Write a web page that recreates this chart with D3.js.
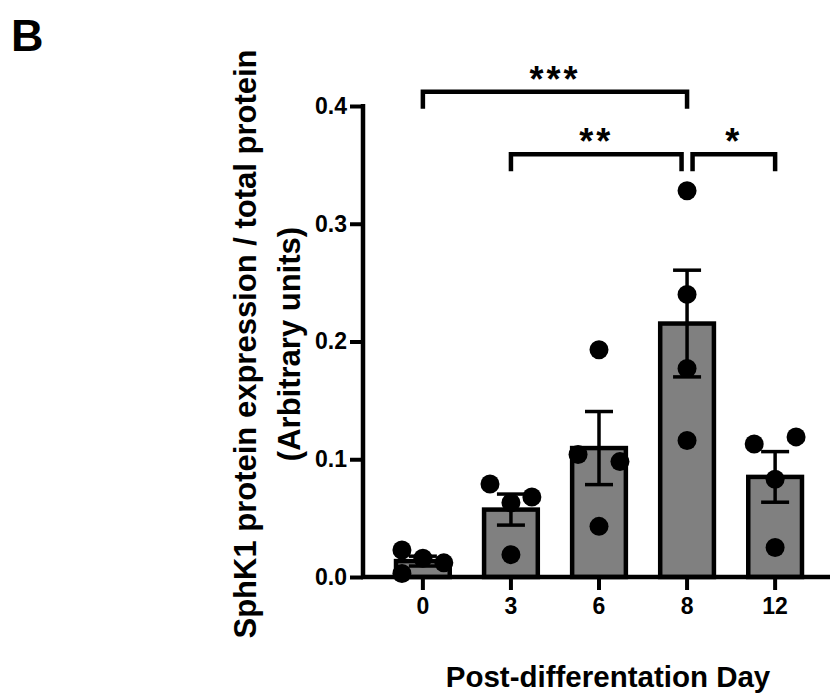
<!DOCTYPE html>
<html>
<head>
<meta charset="utf-8">
<script src="https://cdn.jsdelivr.net/npm/d3@7"></script>
<style>
  body { margin: 0; background: #fff; }
  svg text { font-family: Arial, "Liberation Sans", Helvetica, sans-serif; font-weight: bold; }
</style>
</head>
<body>
<svg id="chart" width="830" height="693"></svg>
<script>
// days after differentiation (x categories)
const days = ['0', '3', '6', '8', '12'];

// individual replicate values per day
const replicates = [
  [0.023, 0.016, 0.012, 0.003],
  [0.079, 0.063, 0.068, 0.019],
  [0.104, 0.098, 0.043, 0.193],
  [0.328, 0.240, 0.177, 0.116],
  [0.113, 0.119, 0.083, 0.025]
];

// horizontal slot of each dot inside its bar (-1 left, 0 middle, 1 right)
const jitterSlots = [
  [-1, 0, 1, -1],
  [-1, 0, 1, 0],
  [-1, 1, 0, 0],
  [0, 0, 0, 0],
  [-1, 1, 0, 0]
];

const yTicks = [0.0, 0.1, 0.2, 0.3, 0.4];

// significance brackets
const comparisons = [
  { from: '0', to: '8', label: '***' },
  { from: '3', to: '8', label: '**' },
  { from: '8', to: '12', label: '*' }
];
const bracketLevels = [0.412, 0.359, 0.359];

const svg = d3.select('#chart');

const x = d3.scaleBand()
  .domain(days)
  .range([363, 835])
  .paddingInner(0.39)
  .paddingOuter(0.375);

const y = d3.scaleLinear()
  .domain([0, 0.4])
  .range([577, 106]);

const stats = replicates.map((vals, i) => ({
  day: days[i],
  mean: d3.mean(vals),
  sem: d3.deviation(vals) / Math.sqrt(vals.length)
}));

// bars
svg.append('g')
  .selectAll('rect')
  .data(stats)
  .join('rect')
  .attr('x', d => x(d.day))
  .attr('y', d => y(d.mean))
  .attr('width', x.bandwidth())
  .attr('height', d => y(0) - y(d.mean))
  .attr('fill', '#808080')
  .attr('stroke', '#000')
  .attr('stroke-width', 4.5);

// axes
const yAxis = g => g
  .attr('transform', 'translate(363,0)')
  .call(d3.axisLeft(y).tickValues(yTicks).tickFormat(d3.format('.1f')).tickSize(13).tickPadding(3).tickSizeOuter(0))
  .call(g => g.selectAll('.domain').attr('stroke-width', 4.5).attr('d', `M0,${y(0.4) - 2}V${y(0) + 2}`))
  .call(g => g.selectAll('.tick line').attr('stroke-width', 4))
  .call(g => g.selectAll('.tick text').attr('font-size', 23).attr('fill', '#000'));

const xAxis = g => g
  .attr('transform', `translate(0,${y(0)})`)
  .call(d3.axisBottom(x).tickSize(13).tickPadding(8).tickSizeOuter(0))
  .call(g => g.selectAll('.domain').attr('stroke-width', 4.5).attr('d', 'M361,0H835'))
  .call(g => g.selectAll('.tick line').attr('stroke-width', 4))
  .call(g => g.selectAll('.tick text').attr('font-size', 23).attr('fill', '#000'));

svg.append('g').call(yAxis);
svg.append('g').call(xAxis);

// error bars (mean ± SEM)
const capHalf = 14;
const err = svg.append('g')
  .attr('stroke', '#000')
  .attr('stroke-width', 3.5)
  .selectAll('g')
  .data(stats)
  .join('g')
  .attr('transform', d => `translate(${x(d.day) + x.bandwidth() / 2},0)`);

err.append('line')
  .attr('y1', d => y(d.mean - d.sem))
  .attr('y2', d => y(d.mean + d.sem));
err.append('line')
  .attr('x1', -capHalf).attr('x2', capHalf)
  .attr('y1', d => y(d.mean + d.sem)).attr('y2', d => y(d.mean + d.sem));
err.append('line')
  .attr('x1', -capHalf).attr('x2', capHalf)
  .attr('y1', d => y(d.mean - d.sem)).attr('y2', d => y(d.mean - d.sem));

// individual points
const jitter = x.bandwidth() * 0.39;
const points = replicates.flatMap((vals, i) =>
  vals.map((v, j) => ({ day: days[i], value: v, slot: jitterSlots[i][j] }))
);

svg.append('g')
  .selectAll('circle')
  .data(points)
  .join('circle')
  .attr('cx', d => x(d.day) + x.bandwidth() / 2 + d.slot * jitter)
  .attr('cy', d => y(d.value))
  .attr('r', 9.5)
  .attr('fill', '#000');

// significance brackets
const drop = 17;
const ends = [[0, 0], [0, -5.5], [5.5, 0]];
const br = svg.append('g')
  .selectAll('g')
  .data(comparisons)
  .join('g');

br.append('path')
  .attr('fill', 'none')
  .attr('stroke', '#000')
  .attr('stroke-width', 4.5)
  .attr('d', (d, i) => {
    const x1 = x(d.from) + x.bandwidth() / 2 + ends[i][0];
    const x2 = x(d.to) + x.bandwidth() / 2 + ends[i][1];
    const yy = y(bracketLevels[i]);
    return `M${x1},${yy + drop}V${yy}H${x2}V${yy + drop}`;
  });

br.append('text')
  .attr('x', (d, i) => (x(d.from) + x(d.to)) / 2 + x.bandwidth() / 2 + (ends[i][0] + ends[i][1]) / 2)
  .attr('y', (d, i) => y(bracketLevels[i]))
  .attr('text-anchor', 'middle')
  .attr('font-size', 36)
  .attr('letter-spacing', 3)
  .text(d => d.label);

// axis titles
svg.append('text')
  .attr('transform', 'translate(256,344) rotate(-90)')
  .attr('text-anchor', 'middle')
  .attr('font-size', 31)
  .text('SphK1 protein expression / total protein');

svg.append('text')
  .attr('transform', 'translate(300,344) rotate(-90)')
  .attr('text-anchor', 'middle')
  .attr('font-size', 31)
  .text('(Arbitrary units)');

svg.append('text')
  .attr('x', 608)
  .attr('y', 687)
  .attr('text-anchor', 'middle')
  .attr('font-size', 29.5)
  .text('Post-differentation Day');

svg.append('text')
  .attr('x', 11)
  .attr('y', 51)
  .attr('font-size', 45)
  .text('B');
</script>
</body>
</html>
